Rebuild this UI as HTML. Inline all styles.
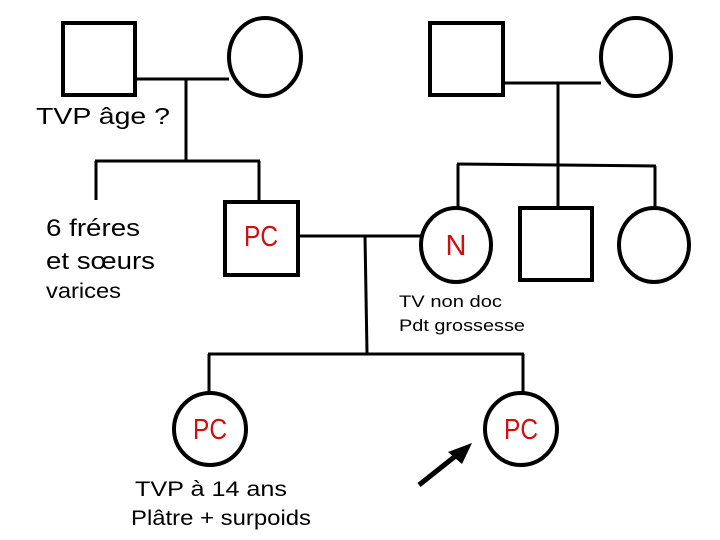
<!DOCTYPE html>
<html><head><meta charset="utf-8"><style>
html,body{margin:0;padding:0;background:#fff;width:720px;height:540px;overflow:hidden}
text{font-family:"Liberation Sans",Arial,sans-serif}
</style></head><body>
<svg width="720" height="540" xmlns="http://www.w3.org/2000/svg" style="display:block">
<g fill="none" stroke="#000" stroke-width="4">
<rect x="63" y="23" width="72" height="72"/>
<ellipse cx="265" cy="57" rx="36" ry="39"/>
<line x1="135" y1="79" x2="229" y2="79" stroke-width="3"/>
<line x1="186" y1="79" x2="186" y2="161" stroke-width="3"/>
<line x1="95" y1="161" x2="260" y2="161" stroke-width="3"/>
<line x1="96" y1="161" x2="96" y2="200" stroke-width="3"/>
<line x1="259" y1="161" x2="259" y2="202" stroke-width="3"/>
<rect x="225" y="202" width="73" height="73"/>
<rect x="430" y="23" width="73" height="72"/>
<ellipse cx="636" cy="57" rx="35" ry="39"/>
<line x1="503" y1="83" x2="601" y2="83" stroke-width="3"/>
<line x1="558" y1="83" x2="558" y2="209" stroke-width="3"/>
<line x1="457" y1="164" x2="656" y2="166" stroke-width="3"/>
<line x1="458" y1="164" x2="458" y2="210" stroke-width="3"/>
<line x1="655" y1="166" x2="655" y2="210" stroke-width="3"/>
<ellipse cx="456" cy="245" rx="35" ry="37"/>
<rect x="520" y="208" width="72" height="72"/>
<ellipse cx="654" cy="245" rx="35" ry="37"/>
<line x1="298" y1="236" x2="421" y2="236" stroke-width="3"/>
<line x1="365" y1="236" x2="367" y2="353" stroke-width="3"/>
<line x1="208" y1="354" x2="524" y2="354" stroke-width="3"/>
<line x1="209" y1="354" x2="209" y2="393" stroke-width="3"/>
<line x1="523" y1="354" x2="523" y2="393" stroke-width="3"/>
<circle cx="210" cy="429" r="36"/>
<circle cx="521" cy="429" r="36"/>
<line x1="419" y1="485" x2="458" y2="454" stroke-width="5"/>
</g>
<polygon points="472,443 448,452 462,464" fill="#000"/>
<g font-size="21" fill="#000" lengthAdjust="spacingAndGlyphs">
<text x="36" y="124" font-size="23" textLength="134" lengthAdjust="spacingAndGlyphs">TVP âge ?</text>
<text x="46" y="236" font-size="24" textLength="94" lengthAdjust="spacingAndGlyphs">6 fréres</text>
<text x="46" y="269" font-size="24" textLength="109" lengthAdjust="spacingAndGlyphs">et sœurs</text>
<text x="46" y="298" textLength="75" lengthAdjust="spacingAndGlyphs">varices</text>
<text x="135" y="496" textLength="152" lengthAdjust="spacingAndGlyphs">TVP  à 14 ans</text>
<text x="131" y="525" textLength="180" lengthAdjust="spacingAndGlyphs">Plâtre + surpoids</text>
<text x="399" y="307" font-size="17" textLength="103" lengthAdjust="spacingAndGlyphs">TV non doc</text>
<text x="399" y="331" font-size="17" textLength="126" lengthAdjust="spacingAndGlyphs">Pdt grossesse</text>
</g>
<g font-size="29" fill="#d01010" text-anchor="middle">
<text x="261" y="246" textLength="34" lengthAdjust="spacingAndGlyphs">PC</text>
<text x="456" y="255">N</text>
<text x="210" y="439" textLength="34" lengthAdjust="spacingAndGlyphs">PC</text>
<text x="521" y="439" textLength="34" lengthAdjust="spacingAndGlyphs">PC</text>
</g>
</svg>
</body></html>
